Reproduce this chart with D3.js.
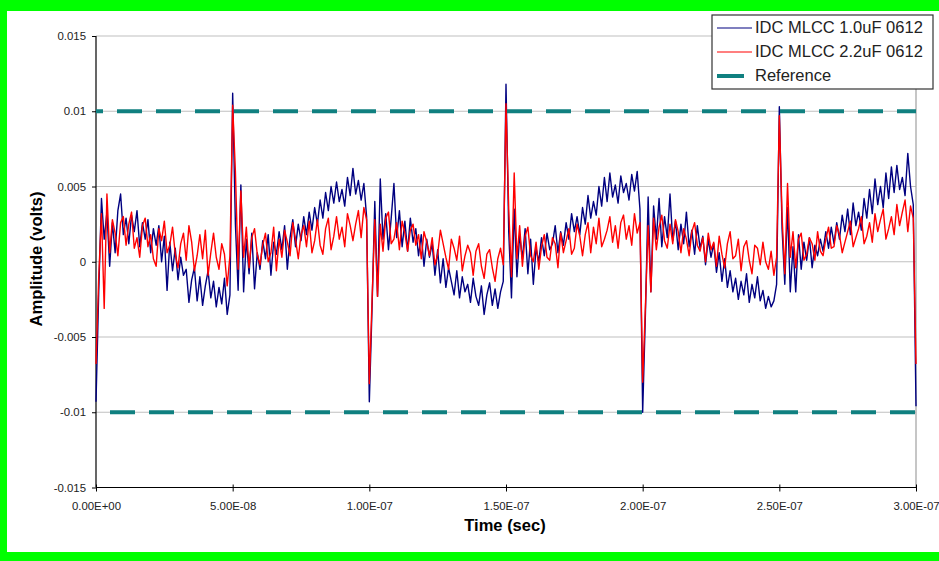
<!DOCTYPE html>
<html>
<head>
<meta charset="utf-8">
<script src="https://cdn.jsdelivr.net/npm/d3@7"></script>
<style>
  body { margin: 0; background: #fff; }
  svg { display: block; font-family: "Liberation Sans", Arial, sans-serif; }
</style>
</head>
<body>
<svg id="vimage" width="939" height="561"></svg>
<script>
//---------------------------------------- data ---------------------------------------
// one sample per ns, values in millivolts (axis is in volts)
var sampleStep = 1e-9;

var mlcc10 = [
  -9.3, -2.0, 4.2, 1.5, 3.3, -0.3, 2.6, 0.6, 3.4, 4.5,
  1.8, 2.9, 1.2, 3.1, 2.0, 3.4, 1.0, 2.6, 1.5, 2.8,
  0.6, 2.2, 1.1, 2.4, 0.0, 1.7, -1.9, 1.3, -0.6, 0.9,
  -1.2, 0.3, -0.9, -0.5, -2.7, -1.2, -0.4, -2.6, -1.0, -2.9,
  -1.6, -0.6, -2.4, -1.3, -3.0, -1.7, -2.8, -1.1, -3.5, -2.2,
  11.2, 2.5, -1.9, 5.1, -2.0, 1.5, -0.8, 1.9, -1.8, 0.6,
  -0.5, 1.4, 0.2, 1.8, -0.9, 1.3, 0.5, 2.0, 0.8, 2.4,
  -0.5, 1.6, 2.8, 1.0, 2.5, 1.4, 3.0, 1.8, 3.3, 2.1,
  3.6, 2.5, 4.1, 2.9, 4.6, 3.4, 5.0, 3.9, 5.3, 4.0,
  4.8, 3.7, 5.6, 4.4, 6.2, 4.5, 5.4, 4.1, 5.2, 3.0,
  -9.3, -3.0, 4.0, -2.3, 5.5, 1.5, 3.2, 0.8, 2.9, 5.2,
  1.6, 3.4, 1.0, 2.7, 0.7, 2.9, 1.3, 2.2, 0.4, 1.8,
  -0.3, 1.5, 0.3, 1.2, -0.9, 0.8, -1.4, 0.2, -1.7, -0.4,
  -1.3, -2.2, -0.6, -2.4, -1.0, -2.0, -1.5, -2.7, -1.1, -2.3,
  -2.9, -1.6, -3.5, -2.2, -1.4, -2.9, -1.8, -3.1, -2.0, -1.3,
  11.8, 2.0, -2.4, 3.5, -1.0, 1.8, 0.2, 2.2, -0.8, 1.5,
  -1.5, 0.9, 0.0, 1.6, 0.4, 1.9, 0.8, 1.2, 2.4, 0.6,
  2.0, 1.1, 2.6, 1.5, 3.2, 2.0, 3.0, 1.8, 3.6, 2.5,
  4.4, 2.9, 4.0, 3.1, 5.0, 3.7, 5.6, 4.0, 5.9, 4.3,
  5.1, 3.9, 5.7, 4.6, 5.2, 4.1, 5.8, 4.7, 6.0, 3.5,
  -10.0, -3.5, 4.3, -2.0, 3.7, 1.5, 4.2, 1.0, 3.0, 1.6,
  4.5, 1.4, 2.7, 0.8, 2.5, 1.2, 3.3, 1.0, 2.1, 0.5,
  2.4, 0.9, 1.7, -0.2, 1.5, 0.3, 1.2, -0.7, 0.6, -1.3,
  0.2, -1.7, -0.6, -2.0, -1.1, -2.5, -1.3, -2.2, -0.8, -2.7,
  -1.5, -2.4, -1.0, -2.6, -1.9, -3.1, -2.3, -3.0, -2.6, -1.5,
  10.3, 2.2, -1.5, 3.6, -2.0, 1.0, -2.0, 1.8, -0.5, 1.3,
  0.1, 1.6, -0.4, 1.1, 0.4, 1.5, 0.7, 2.0, 0.9, 2.3,
  1.2, 2.6, 1.5, 3.1, 2.0, 3.5, 1.8, 3.9, 2.4, 3.3,
  2.1, 4.2, 2.9, 4.8, 3.2, 5.5, 3.8, 5.0, 3.6, 5.9,
  4.2, 6.3, 4.6, 6.4, 4.8, 5.6, 4.4, 7.2, 5.0, 3.8,
  -9.6
];

var mlcc22 = [
  -6.8, -1.0, 3.2, -3.1, 4.5, 0.6, 2.8, 1.9, 0.4, 2.6,
  3.0, 1.1, 2.5, 3.3, 0.9, 1.6, 0.3, 2.4, 2.9, 1.0,
  1.8, 0.2, -0.3, 2.2, 1.4, 2.7, 0.6, 1.1, 2.3, 0.5,
  -0.4, 1.2, 1.9, 0.1, 2.4, 1.3, -0.6, 0.4, 1.8, 0.2,
  2.1, -0.9, 0.6, 1.9, 0.3, -0.5, 1.2, 0.5, -1.6, 0.4,
  10.4, 6.0, -0.5, 4.7, 0.3, 2.3, -0.4, 1.6, 2.2, 0.5,
  -0.2, 1.1, 1.9, 0.0, 0.6, 2.3, -0.6, 1.5, 0.3, 2.1,
  1.3, 0.4, 2.6, 1.5, 0.2, 1.8, 2.4, 1.0, 2.7, 0.6,
  1.4, 2.8, 1.1, 0.5, 2.2, 2.9, 0.8, 1.7, 3.0, 1.5,
  2.3, 1.0, 3.2, 2.4, 1.4, 2.5, 3.4, 1.6, 3.6, 2.8,
  -8.1, -2.5, 2.8, -2.3, 2.5, 0.7, 2.9, 3.3, 1.2, 1.5,
  2.6, 0.8, 2.7, 1.9, 0.7, 2.1, 2.5, 1.1, 1.8, 0.2,
  2.0, 1.3, 0.4, 1.6, -0.2, 0.5, 2.1, 1.2, 0.3, -0.5,
  1.5, 0.9, 0.1, 1.7, -0.6, 0.4, 1.1, 0.6, -0.9, 0.7,
  1.2, -0.3, -1.1, 0.5, 0.8, -0.4, -1.3, 0.2, 0.9, -0.2,
  10.5, 3.5, -1.0, 5.9, 0.2, 2.4, -0.3, 1.7, 2.3, 0.4,
  0.0, 1.3, -0.5, 1.0, 1.8, 0.3, 0.1, 1.6, 1.2, -0.4,
  1.9, 0.6, 1.4, 2.2, 0.5, 0.9, 2.5, 1.7, 0.4, 1.8,
  2.6, 0.6, 2.3, 1.2, 2.9, 1.0, 1.5, 2.1, 3.0, 1.3,
  2.4, 0.9, 2.6, 3.1, 1.5, 2.4, 1.1, 3.2, 1.9, 2.6,
  -8.0, -3.0, 2.4, -2.0, 2.9, 0.8, 2.3, 3.1, 1.4, 0.9,
  2.5, 1.2, 2.8, 2.0, 0.6, 2.2, 1.5, 0.4, 2.0, 2.6,
  1.1, 0.7, 1.6, 0.0, 1.9, 0.8, 1.3, -0.3, 1.7, 0.5,
  -0.4, 1.2, 2.0, 0.2, 0.4, 1.5, -0.6, 1.0, 1.4, 0.1,
  -0.8, 1.1, 0.9, -0.2, 1.3, 0.0, -0.5, 0.7, -0.9, 0.3,
  9.7, 3.0, -0.8, 5.2, 0.3, 2.0, -0.4, 1.5, 1.9, 0.1,
  0.5, 1.6, 1.2, 0.1, 2.0, 0.7, 0.4, 1.5, 2.3, 0.9,
  1.0, 2.4, 1.8, 0.6, 1.3, 2.0, 2.7, 1.0, 1.6, 2.2,
  3.0, 1.2, 1.7, 2.6, 1.3, 3.2, 2.0, 2.8, 3.5, 1.5,
  2.2, 3.0, 1.8, 3.8, 2.4, 3.3, 4.1, 2.0, 3.7, 2.9,
  -6.8
];

var refLevels = [0.01, -0.01];

var seriesNames = ["IDC MLCC 1.0uF 0612", "IDC MLCC 2.2uF 0612", "Reference"];
var seriesColors = ["#000080", "#ff0000", "#108080"];

var yTicks = [0.015, 0.01, 0.005, 0, -0.005, -0.01, -0.015];
var xTicks = [0, 5e-8, 1e-7, 1.5e-7, 2e-7, 2.5e-7, 3e-7];

//---------------------------------------- frame ---------------------------------------
var svg = d3.select("#vimage");

svg.append("rect").attr("width", 939).attr("height", 561).style("fill", "#00ff00");
svg.append("rect").attr("x", 7).attr("y", 11).attr("width", 932).attr("height", 541).style("fill", "#ffffff");

var plotLeft = 96, plotRight = 916, plotTop = 36, plotBottom = 487.5;

var x = d3.scaleLinear().domain([0, 3e-7]).range([plotLeft, plotRight]);
var y = d3.scaleLinear().domain([-0.015, 0.015]).range([plotBottom, plotTop]);

// gridlines
svg.append("g")
  .selectAll("line")
  .data(yTicks.filter(function(d) { return d > -0.015; }))
  .enter().append("line")
  .attr("x1", plotLeft).attr("x2", plotRight)
  .attr("y1", function(d) { return y(d); })
  .attr("y2", function(d) { return y(d); })
  .style("stroke", "#c0c0c0")
  .style("stroke-width", 1.2);

svg.append("line")
  .attr("x1", plotRight).attr("x2", plotRight)
  .attr("y1", plotTop).attr("y2", plotBottom)
  .style("stroke", "#a0a0a0")
  .style("stroke-width", 1.2);

//---------------------------------------- axes ---------------------------------------
function sciFormat(d) {
  var s = d.toExponential(2).toUpperCase();
  return s.replace(/E([+-])(\d)$/, "E$10$2");
}

var yAxis = svg.append("g")
  .attr("transform", "translate(" + plotLeft + ",0)")
  .call(d3.axisLeft(y).tickValues(yTicks).tickSize(4).tickPadding(6)
    .tickFormat(function(d) { return String(d); }));

var xAxis = svg.append("g")
  .attr("transform", "translate(0," + plotBottom + ")")
  .call(d3.axisBottom(x).tickValues(xTicks).tickSize(4).tickPadding(10)
    .tickFormat(sciFormat));

[yAxis, xAxis].forEach(function(ax) {
  ax.select(".domain").style("stroke", "#000").style("stroke-width", 1.2);
  ax.selectAll(".tick line").style("stroke", "#000");
  ax.selectAll(".tick text")
    .style("font-size", "11.4px")
    .style("fill", "#222")
    .attr("font-family", "'Liberation Sans', Arial, sans-serif");
});
// excel style cross ticks on the time axis
xAxis.selectAll(".tick line").attr("y1", -3);
xAxis.select(".domain").attr("d", "M" + plotLeft + ",0H" + plotRight);
yAxis.select(".domain").attr("d", "M0," + plotTop + "V" + plotBottom);

svg.append("text")
  .attr("transform", "translate(38," + 259 + ") rotate(-90)")
  .attr("text-anchor", "middle")
  .attr("dominant-baseline", "middle")
  .style("font-size", "16.5px")
  .style("font-weight", "bold")
  .text("Amplitude (volts)");

svg.append("text")
  .attr("x", 505)
  .attr("y", 527)
  .attr("text-anchor", "middle")
  .attr("dominant-baseline", "middle")
  .style("font-size", "16.5px")
  .style("font-weight", "bold")
  .text("Time (sec)");

//---------------------------------------- traces ---------------------------------------
var line = d3.line()
  .x(function(d, i) { return x(i * sampleStep); })
  .y(function(d) { return y(d / 1000); });

[mlcc10, mlcc22].forEach(function(series, k) {
  svg.append("path")
    .datum(series)
    .attr("d", line)
    .style("fill", "none")
    .style("stroke", seriesColors[k])
    .style("stroke-width", 1.4)
    .style("stroke-linejoin", "round");
});

var refDashOffset = [18, 25];
svg.append("g")
  .selectAll("line")
  .data(refLevels)
  .enter().append("line")
  .attr("x1", x(0)).attr("x2", x(3e-7))
  .attr("y1", function(d) { return y(d); })
  .attr("y2", function(d) { return y(d); })
  .style("stroke", seriesColors[2])
  .style("stroke-width", 4)
  .style("stroke-dasharray", "25,14")
  .style("stroke-dashoffset", function(d, i) { return refDashOffset[i]; });

//---------------------------------------- legend ---------------------------------------
var legend = svg.append("g").attr("transform", "translate(712,15)");

legend.append("rect")
  .attr("width", 221).attr("height", 74)
  .style("fill", "#fff")
  .style("stroke", "#333")
  .style("stroke-width", 1.2);

var legendItems = legend.selectAll(".legendItem")
  .data(seriesNames)
  .enter().append("g")
  .attr("class", "legendItem")
  .attr("transform", function(d, i) { return "translate(0," + (13 + i * 24) + ")"; });

legendItems.append("line")
  .attr("x1", 5)
  .attr("x2", function(d, i) { return i == 2 ? 32 : 40; })
  .attr("y1", 0).attr("y2", 0)
  .style("stroke", function(d, i) { return seriesColors[i]; })
  .style("stroke-width", function(d, i) { return i == 2 ? 4 : 1.2; });

legendItems.append("text")
  .attr("x", 43)
  .attr("y", 1)
  .attr("dominant-baseline", "middle")
  .style("font-size", "16.5px")
  .style("fill", "#222")
  .text(function(d) { return d; });
</script>
</body>
</html>
